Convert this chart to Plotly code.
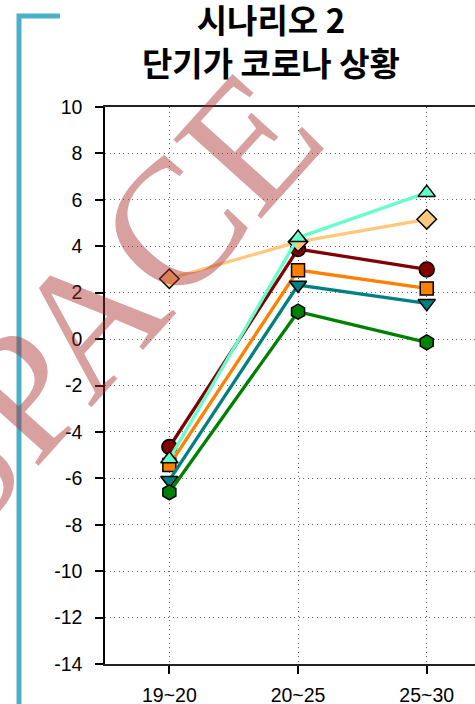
import plotly.graph_objects as go

categories = ["19~20", "20~25", "25~30"]

s_darkred = [-4.65, 3.88, 3.0]
s_orange = [-5.43, 2.97, 2.18]
s_teal = [-6.08, 2.33, 1.54]
s_green = [-6.6, 1.18, -0.14]
s_lightorange = [2.6, 4.19, 5.16]
s_aqua = [-5.17, 4.37, 6.31]

y_ticks = list(range(-14, 11, 2))

series = [
    ("dark red", s_darkred, "#800000", "circle", 15),
    ("orange", s_orange, "#ff8000", "square", 13),
    ("teal", s_teal, "#008080", "triangle-down", 15),
    ("green", s_green, "#008000", "hexagon", 15),
    ("light orange", s_lightorange, "#ffc87c", "diamond", 15),
    ("aqua", s_aqua, "#66ffcc", "triangle-up", 15),
]

fig = go.Figure()
for name, vals, col, sym, sz in series:
    fig.add_trace(go.Scatter(
        x=[0, 1, 2], y=vals, mode="lines+markers", name=name,
        line=dict(color=col, width=3.3),
        marker=dict(symbol=sym, size=sz, color=col, line=dict(color="black", width=1.5)),
        showlegend=False, cliponaxis=False,
    ))

W, H = 475, 704
L, T, B = 105, 107, 40
pw = W - L
ph = H - T - B


def px(x):
    return (x - L) / pw


def py(y):
    return (H - B - y) / ph


fig.update_layout(
    width=W, height=H,
    margin=dict(l=L, r=0, t=T, b=B),
    plot_bgcolor="white", paper_bgcolor="white",
    font=dict(family="Liberation Sans, Arial", size=19.5, color="black"),
    xaxis=dict(
        range=[-0.5, 2.375], tickmode="array", tickvals=[0, 1, 2], ticktext=categories,
        showgrid=True, gridcolor="#666", griddash="1px,3.5px", gridwidth=1.2,
        showline=True, linecolor="#222", linewidth=2, mirror=True,
        ticks="outside", ticklen=8, tickwidth=1.5, tickcolor="black",
        zeroline=False, ticklabelstandoff=5, automargin=False,
    ),
    yaxis=dict(
        range=[-14, 10], tickmode="array", tickvals=y_ticks,
        ticktext=[str(v) for v in y_ticks],
        showgrid=True, gridcolor="#666", griddash="1px,3.5px", gridwidth=1.2,
        showline=True, linecolor="black", linewidth=1.5,
        ticks="outside", ticklen=8, tickwidth=1.5, tickcolor="black",
        zeroline=False, ticklabelstandoff=9, automargin=False,
    ),
)

# left bracket decoration
fig.add_shape(type="path", xref="paper", yref="paper",
              path=f"M {px(60)},{py(16)} L {px(19)},{py(16)} L {px(19)},{py(720)}",
              line=dict(color="#4cb0c8", width=5))

# title
fig.add_annotation(text="<b>시나리오 2</b><br><b>단기가 코로나 상황</b>", xref="paper", yref="paper",
                   x=px(271), y=py(41), xanchor="center", yanchor="middle", showarrow=False,
                   align="center",
                   font=dict(family="Noto Sans CJK KR", size=33, color="black"))

# watermark
fig.add_annotation(text="SPACE", xref="paper", yref="paper",
                   x=px(104), y=py(302), xanchor="center", yanchor="middle", showarrow=False,
                   textangle=-48,
                   font=dict(family="Liberation Serif, Times New Roman", size=180,
                             color="rgba(171,44,44,0.45)"))

fig.write_html("out.html", config={"displayModeBar": False},
               post_script="document.body.style.margin='0';")
